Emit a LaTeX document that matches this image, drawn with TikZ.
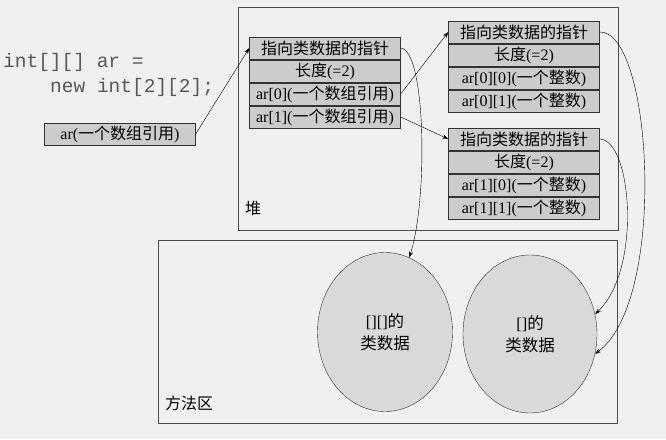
\documentclass[tikz,border=0pt]{standalone}
\usepackage{fontspec}
\setmainfont{Liberation Serif}
\setmonofont{Liberation Mono}
\newfontfamily\cjk{Noto Sans CJK SC}
\usetikzlibrary{arrows.meta,shapes.geometric}
\newcommand{\zh}[1]{{\cjk #1}}
\begin{document}
\begin{tikzpicture}[x=1pt,y=-1pt,
  cell/.style={draw=black!80,fill=black!20,minimum width=151pt,minimum height=22pt,inner sep=0pt,font=\fontsize{16}{18}\selectfont},
  area/.style={draw=black!70,line width=.7pt},
  cls/.style={ellipse,draw=black!80,fill=black!15,inner sep=0pt,align=center,font=\fontsize{16.5}{22}\selectfont},
  lbl/.style={anchor=west,inner sep=0pt,font=\fontsize{16}{18}\selectfont},
  code/.style={anchor=west,inner sep=0pt,text=black!65,font=\ttfamily\fontsize{19.5}{22}\selectfont},
  >={Stealth[length=6pt,width=4pt]}]
\fill[black!6] (0,0) rectangle (666,439);
\useasboundingbox (0,0) rectangle (666,439);

% heap and method area
\draw[area] (238,7) rectangle (618,230);
\draw[area] (158,240) rectangle (617,423);
\node[lbl] (HEAP) at (245,208) {\zh{堆}};
\node[lbl] (METHOD) at (165,403) {\zh{方法区}};

\node[code] (CODE1) at (3,62) {int[][] ar =};
\node[code] (CODE2) at (50,87) {new int[2][2];};

\node[cell] (AR) at (120,134) {ar(\zh{一个数组引用})};

\begin{scope}[shift={(325,0)}]
  \node[cell] (H) at (0,48) {\zh{指向类数据的指针}};
  \node[cell] (LEN) at (0,71) {\zh{长度}(=2)};
  \node[cell] (A0) at (0,94) {ar[0](\zh{一个数组引用})};
  \node[cell] (A1) at (0,117) {ar[1](\zh{一个数组引用})};
\end{scope}

\begin{scope}[shift={(524,0)}]
  \node[cell] (H0) at (0,32) {\zh{指向类数据的指针}};
  \node[cell] (LEN0) at (0,55) {\zh{长度}(=2)};
  \node[cell] (A00) at (0,78) {ar[0][0](\zh{一个整数})};
  \node[cell] (A01) at (0,101) {ar[0][1](\zh{一个整数})};
\end{scope}

\begin{scope}[shift={(524,0)}]
  \node[cell] (H1) at (0,139) {\zh{指向类数据的指针}};
  \node[cell] (LEN1) at (0,162) {\zh{长度}(=2)};
  \node[cell] (A10) at (0,185) {ar[1][0](\zh{一个整数})};
  \node[cell] (A11) at (0,208) {ar[1][1](\zh{一个整数})};
\end{scope}

\node[cls,minimum width=135pt,minimum height=159pt] (C2) at (385,332) {[][]\zh{的}\\\zh{类数据}};
\node[cls,minimum width=134pt,minimum height=158pt] (C1) at (530,334) {[]\zh{的}\\\zh{类数据}};

\draw[->] (AR.east) -- (H.west);
\draw[->] (A0.east) -- (H0.west);
\draw[->] (A1.east) -- (H1.west);
\draw[->] (H.east) .. controls (426,50) and (428,200) .. (C2.72);
\draw[->] (H1.east) .. controls (632,140) and (642,270) .. (C1.17);
\draw[->] (H0.east) .. controls (652,30) and (668,300) .. (C1.-17);
\end{tikzpicture}
\end{document}
